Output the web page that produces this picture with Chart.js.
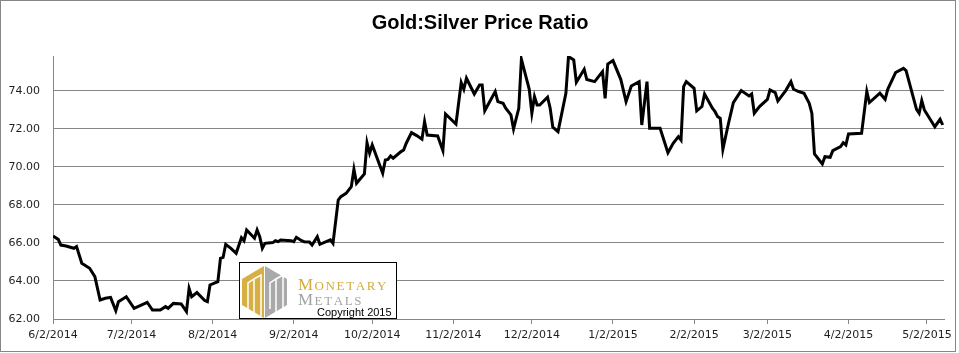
<!DOCTYPE html>
<html>
<head>
<meta charset="utf-8">
<script src="https://cdn.jsdelivr.net/npm/chart.js@4/dist/chart.umd.min.js"></script>
<style>
  html, body { margin: 0; padding: 0; background: #fff; }
  #wrap { width: 959px; height: 353px; position: relative; }
</style>
</head>
<body>
<div id="wrap"><canvas id="myChart"></canvas></div>
<script>
// days counted from 6/2/2014
const days = [
  0, 2, 3, 5, 8, 9, 11, 14, 16, 18, 20, 22, 24, 25, 28, 31, 36, 38, 41, 43,
  44, 46, 49, 51, 52, 53, 55, 58, 59, 60, 63, 64, 65, 66, 68, 70, 72, 73, 74, 77,
  78, 79, 80, 81, 84, 85, 86, 87, 91, 92, 93, 95, 96, 98, 99, 101, 102, 106, 107, 109,
  110, 112, 114, 115, 116, 119, 120, 121, 122, 126, 127, 128, 129, 130, 133, 134, 135, 137, 139, 141,
  142, 143, 147, 149, 150, 154, 156, 157, 158, 161, 163, 164, 165, 169, 170, 172, 173, 175, 176, 178,
  179, 182, 183, 184, 185, 186, 189, 190, 191, 193, 196, 197, 199, 200, 203, 204, 207, 210, 211, 212,
  214, 217, 219, 221, 224, 225, 227, 228, 232, 235, 237, 239, 240, 241, 242, 245, 246, 248, 249, 252,
  253, 254, 255, 256, 258, 260, 263, 266, 267, 268, 270, 273, 274, 276, 277, 280, 282, 283, 285, 287,
  289, 290, 291, 294, 295, 297, 298, 301, 302, 303, 304, 309, 311, 312, 316, 318, 319, 322, 325, 326,
  330, 331, 332, 333, 337, 339, 340
]
const ratios = [
  66.37, 66.19, 65.89, 65.84, 65.72, 65.81, 64.93, 64.67, 64.23, 63.00, 63.09, 63.14, 62.44, 62.91, 63.17, 62.56, 62.88, 62.47, 62.47, 62.65,
  62.56, 62.82, 62.79, 62.39, 63.61, 63.17, 63.39, 62.97, 62.91, 63.79, 63.96, 65.19, 65.24, 65.93, 65.72, 65.46, 66.28, 66.12, 66.68, 66.25,
  66.68, 66.33, 65.72, 65.98, 66.02, 66.12, 66.07, 66.16, 66.12, 66.07, 66.30, 66.12, 66.07, 66.05, 65.89, 66.33, 65.93, 66.16, 65.98, 68.26,
  68.44, 68.61, 68.96, 69.88, 69.14, 69.63, 71.28, 70.72, 71.16, 69.67, 70.37, 70.40, 70.58, 70.46, 70.81, 70.89, 71.25, 71.81, 71.65, 71.46,
  72.39, 71.68, 71.63, 70.86, 72.79, 72.26, 74.44, 74.09, 74.67, 73.84, 74.32, 74.32, 72.96, 73.97, 73.44, 73.35, 73.09, 72.74, 72.00, 73.09,
  75.67, 74.09, 72.83, 73.70, 73.26, 73.26, 73.67, 73.09, 72.09, 71.86, 73.88, 75.81, 75.63, 74.46, 75.14, 74.60, 74.49, 75.02, 73.61, 75.42,
  75.60, 74.60, 73.44, 74.26, 74.49, 72.21, 74.49, 72.04, 72.04, 70.75, 71.25, 71.60, 71.42, 74.23, 74.49, 74.14, 72.95, 73.18, 73.84, 73.09,
  72.91, 72.65, 72.56, 70.93, 72.21, 73.39, 74.02, 73.74, 73.84, 72.83, 73.18, 73.56, 74.05, 73.91, 73.47, 74.02, 74.49, 74.09, 73.97, 73.88,
  73.35, 72.83, 70.68, 70.16, 70.54, 70.51, 70.86, 71.07, 71.28, 71.16, 71.74, 71.77, 73.97, 73.39, 73.88, 73.56, 74.09, 74.97, 75.19, 75.07,
  73.03, 72.83, 73.49, 73.00, 72.12, 72.51, 72.21
]
// month ticks (days from 6/2/2014) and their labels
const tickDays = [0, 30, 61, 92, 122, 153, 183, 214, 245, 273, 304, 334]
const tickLabels = ['6/2/2014', '7/2/2014', '8/2/2014', '9/2/2014', '10/2/2014', '11/2/2014',
  '12/2/2014', '1/2/2015', '2/2/2015', '3/2/2015', '4/2/2015', '5/2/2015']
const yTicks = [62, 64, 66, 68, 70, 72, 74]

const GRID = '#878787'

// title, frame and logo box
const decor = {
  id: 'decor',
  beforeDraw(chart) {
    const c = chart.ctx
    c.save()
    c.fillStyle = '#fff'
    c.fillRect(0, 0, chart.width, chart.height)
    c.restore()
  },
  afterDraw(chart) {
    const c = chart.ctx
    const a = chart.chartArea
    c.save()
    // outer frame
    c.strokeStyle = GRID
    c.lineWidth = 1
    c.strokeRect(0.5, 0.5, 955, 351)
    // title
    c.fillStyle = '#000'
    c.font = 'bold 20px "Liberation Sans Narrow", "Liberation Sans", sans-serif'
    c.textAlign = 'center'
    c.textBaseline = 'middle'
    c.fillText('Gold:Silver Price Ratio', 480, 23)

    // logo box
    const bx = a.left + 187, by = a.bottom - 56
    c.fillStyle = '#fff'
    c.fillRect(bx, by, 156, 56)
    c.strokeStyle = '#000'
    c.strokeRect(bx - 0.5, by - 0.5, 157, 56)
    // hexagon: gold left, grey right
    const hx = bx + 2, hy = by + 2
    c.fillStyle = '#d6b042'
    c.beginPath()
    c.moveTo(hx, hy + 14); c.lineTo(hx + 22, hy + 1); c.lineTo(hx + 22, hy + 53); c.lineTo(hx, hy + 40)
    c.closePath(); c.fill()
    c.fillStyle = '#a9a9a9'
    c.beginPath()
    c.moveTo(hx + 23, hy + 1); c.lineTo(hx + 45, hy + 14); c.lineTo(hx + 45, hy + 40); c.lineTo(hx + 23, hy + 53)
    c.closePath(); c.fill()
    c.strokeStyle = '#fff'
    c.lineWidth = 1.5
    ;[hx + 3, hx + 25].forEach(function (x0) {
      c.beginPath()
      c.moveTo(x0 + 3, hy + 44); c.lineTo(x0 + 3, hy + 18); c.lineTo(x0 + 9, hy + 14); c.lineTo(x0 + 9, hy + 48)
      c.moveTo(x0 + 9, hy + 14); c.lineTo(x0 + 16, hy + 10); c.lineTo(x0 + 16, hy + 51)
      c.stroke()
    })
    // words
    function smallCaps(word, x, y, color) {
      c.fillStyle = color
      c.textAlign = 'left'
      c.textBaseline = 'alphabetic'
      c.font = '17px "Liberation Serif", "DejaVu Serif", serif'
      c.fillText(word[0], x, y)
      x += c.measureText(word[0]).width + 1.5
      c.font = '13px "Liberation Serif", "DejaVu Serif", serif'
      for (const ch of word.slice(1)) {
        c.fillText(ch, x, y)
        x += c.measureText(ch).width + 1.6
      }
    }
    smallCaps('MONETARY', bx + 58, by + 27, '#d4ab3c')
    smallCaps('METALS', bx + 58, by + 42, '#a3a3a3')
    c.fillStyle = '#000'
    c.font = '11px "Liberation Sans", Arial, sans-serif'
    c.textAlign = 'left'
    c.fillText('Copyright 2015', bx + 77, by + 53)
    c.restore()
  }
}

const ctx = document.getElementById('myChart').getContext('2d')
const chart = new Chart(ctx, {
  type: 'line',
  data: {
    datasets: [{
      label: 'Gold:Silver',
      data: days.map((d, i) => ({ x: d, y: ratios[i] })),
      borderColor: '#000',
      borderWidth: 3,
      pointRadius: 0,
      tension: 0,
      fill: false
    }]
  },
  options: {
    responsive: true,
    maintainAspectRatio: false,
    animation: false,
    layout: { padding: { left: 0, right: 15, top: 56, bottom: 4 } },
    plugins: { legend: { display: false }, title: { display: false }, tooltip: { enabled: false } },
    scales: {
      x: {
        type: 'linear',
        min: 0,
        max: 340.5,
        afterBuildTicks: s => { s.ticks = tickDays.map(v => ({ value: v })) },
        afterFit: s => { s.height = 30 },
        ticks: {
          autoSkip: false,
          maxRotation: 0,
          padding: 5,
          color: '#1e1e1e',
          font: { family: '"DejaVu Sans", sans-serif', size: 11 },
          callback: (v, i) => tickLabels[i]
        },
        grid: { drawOnChartArea: false, drawTicks: true, tickLength: 5, color: GRID },
        border: { color: GRID }
      },
      y: {
        min: 62,
        max: 75.84,
        afterBuildTicks: s => { s.ticks = yTicks.map(v => ({ value: v })) },
        afterFit: s => { s.width = 53 },
        ticks: {
          padding: 13,
          color: '#1e1e1e',
          font: { family: '"DejaVu Sans", sans-serif', size: 11 },
          callback: v => v.toFixed(2)
        },
        grid: { drawTicks: false, color: GRID },
        border: { color: GRID }
      }
    }
  },
  plugins: [decor]
})
</script>
</body>
</html>
